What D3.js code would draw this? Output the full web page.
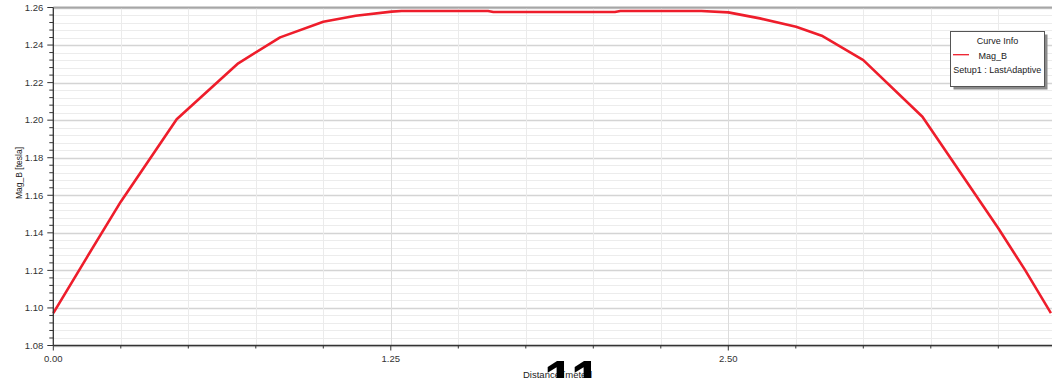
<!DOCTYPE html>
<html>
<head>
<meta charset="utf-8">
<script src="https://cdn.jsdelivr.net/npm/d3@7"></script>
<style>
  html, body { margin: 0; padding: 0; background: #fff; overflow: hidden; }
  svg { display: block; font-family: "Liberation Sans", Arial, sans-serif; }
</style>
</head>
<body>
<svg id="chart" width="1052" height="378"></svg>
<script>
// Field magnitude sampled along the line
const distance = [0, 0.125, 0.25, 0.457, 0.685, 0.84, 1.0, 1.12, 1.253, 1.29,
                  1.61, 1.63, 2.08, 2.10, 2.40, 2.50, 2.617, 2.751, 2.846, 3.0,
                  3.219, 3.5, 3.6, 3.695];
const magB = [1.0972, 1.1271, 1.1566, 1.2005, 1.2303, 1.2441, 1.2524, 1.2556, 1.2578, 1.2581,
              1.2581, 1.2576, 1.2576, 1.2581, 1.2581, 1.2574, 1.2542, 1.2498, 1.2450, 1.2320,
              1.2018, 1.1424, 1.1200, 1.0972];

const xTickLabels = ["0.00", "1.25", "2.50"];
const yTickLabels = ["1.08", "1.10", "1.12", "1.14", "1.16", "1.18", "1.20", "1.22", "1.24", "1.26"];

const curveName = "Mag_B";
const setupName = "Setup1 : LastAdaptive";
const xTitle = "Distance [meter]";
const yTitle = "Mag_B [tesla]";

const svg = d3.select("#chart");

const plotLeft = 53.3, plotTop = 7.5, plotBottom = 345.5;
const pxPerUnit = 270;
const xMax = 3.75;

const x = d3.scaleLinear().domain([0, xMax]).range([plotLeft, plotLeft + xMax * pxPerUnit]);
const y = d3.scaleLinear().domain([1.08, 1.26]).range([plotBottom, plotTop]);

const xMinor = d3.range(0, xMax + 1e-9, 0.25);
const xMajor = xTickLabels.map(Number);
const yMinor = d3.range(0, 46).map(i => +(1.08 + i * 0.004).toFixed(3));
const yMajor = yTickLabels.map(Number);

const isMajorY = v => yMajor.some(m => Math.abs(m - v) < 1e-6);
const isMajorX = v => xMajor.some(m => Math.abs(m - v) < 1e-6);

// grid
const grid = svg.append("g");
grid.selectAll("line.hy").data(yMinor).join("line")
  .attr("x1", plotLeft).attr("x2", 1052)
  .attr("y1", d => Math.round(y(d)) + 0.5).attr("y2", d => Math.round(y(d)) + 0.5)
  .attr("stroke", d => isMajorY(d) ? "#d4d4d4" : "#ececec")
  .attr("stroke-width", d => isMajorY(d) ? 1.3 : 1);
grid.selectAll("line.vx").data(xMinor.filter(d => d > 0)).join("line")
  .attr("x1", d => Math.round(x(d)) + 0.5).attr("x2", d => Math.round(x(d)) + 0.5)
  .attr("y1", plotTop).attr("y2", plotBottom)
  .attr("stroke", d => isMajorX(d) ? "#dcdcdc" : "#ebebeb")
  .attr("stroke-width", 1);

// top frame
svg.append("line").attr("x1", plotLeft).attr("x2", 1052).attr("y1", plotTop).attr("y2", plotTop)
  .attr("stroke", "#a6a6a6").attr("stroke-width", 2);

// curve
const line = d3.line().x((d, i) => x(distance[i])).y(d => y(d));
svg.append("path").datum(magB)
  .attr("d", line)
  .attr("fill", "none")
  .attr("stroke", "#ee1d2b")
  .attr("stroke-width", 2.6)
  .attr("stroke-linejoin", "round");

// y axis
const yAxis = svg.append("g").attr("transform", `translate(${plotLeft},0)`);
yAxis.append("line").attr("x1", 0).attr("x2", 0).attr("y1", plotTop).attr("y2", plotBottom)
  .attr("stroke", "#333").attr("stroke-width", 1.3);
yAxis.selectAll("line.t").data(yMinor).join("line")
  .attr("x1", d => isMajorY(d) ? -6 : -4).attr("x2", 0)
  .attr("y1", d => y(d)).attr("y2", d => y(d))
  .attr("stroke", "#333").attr("stroke-width", 1);
yAxis.selectAll("text").data(yTickLabels).join("text")
  .attr("x", -10).attr("y", d => y(+d)).attr("dy", "0.35em")
  .attr("text-anchor", "end").attr("font-size", 9.5).attr("fill", "#333")
  .text(d => d);

// x axis
const xAxis = svg.append("g").attr("transform", `translate(0,${plotBottom})`);
xAxis.append("line").attr("x1", plotLeft).attr("x2", 1052).attr("y1", 0).attr("y2", 0)
  .attr("stroke", "#333").attr("stroke-width", 1.3);
xAxis.selectAll("line.t").data(xMinor).join("line")
  .attr("x1", d => x(d)).attr("x2", d => x(d))
  .attr("y1", 0).attr("y2", d => isMajorX(d) ? 5 : 3)
  .attr("stroke", "#333").attr("stroke-width", 1);
xAxis.selectAll("text").data(xTickLabels).join("text")
  .attr("x", d => x(+d)).attr("y", 16.5)
  .attr("text-anchor", "middle").attr("font-size", 9.5).attr("fill", "#333")
  .text(d => d);

// axis titles
svg.append("text").attr("x", 523).attr("y", 378)
  .attr("font-size", 9.5).attr("fill", "#222").text(xTitle);
svg.append("text").attr("transform", "translate(22,173) rotate(-90)")
  .attr("text-anchor", "middle").attr("font-size", 8.5).attr("fill", "#222").text(yTitle);

// page number drawn over the axis title
svg.append("text").attr("x", 544).attr("y", 398)
  .attr("font-size", 54).attr("font-weight", "bold").attr("fill", "#000").text("11");

// legend
const lg = svg.append("g").attr("transform", "translate(950.5,31.5)");
lg.append("rect").attr("x", 3).attr("y", 3).attr("width", 94).attr("height", 55).attr("fill", "#8c8c8c");
lg.append("rect").attr("x", 0).attr("y", 0).attr("width", 94).attr("height", 55)
  .attr("fill", "#fff").attr("stroke", "#555").attr("stroke-width", 1);
lg.append("text").attr("x", 47).attr("y", 12.5).attr("text-anchor", "middle")
  .attr("font-size", 9).attr("fill", "#222").text("Curve Info");
lg.append("line").attr("x1", 2.5).attr("x2", 18.5).attr("y1", 23.2).attr("y2", 23.2)
  .attr("stroke", "#ee1d2b").attr("stroke-width", 1.3);
lg.append("text").attr("x", 28).attr("y", 27)
  .attr("font-size", 9).attr("fill", "#222").text(curveName);
lg.append("text").attr("x", 2.8).attr("y", 41.2)
  .attr("font-size", 9).attr("fill", "#222").text(setupName);
</script>
</body>
</html>
